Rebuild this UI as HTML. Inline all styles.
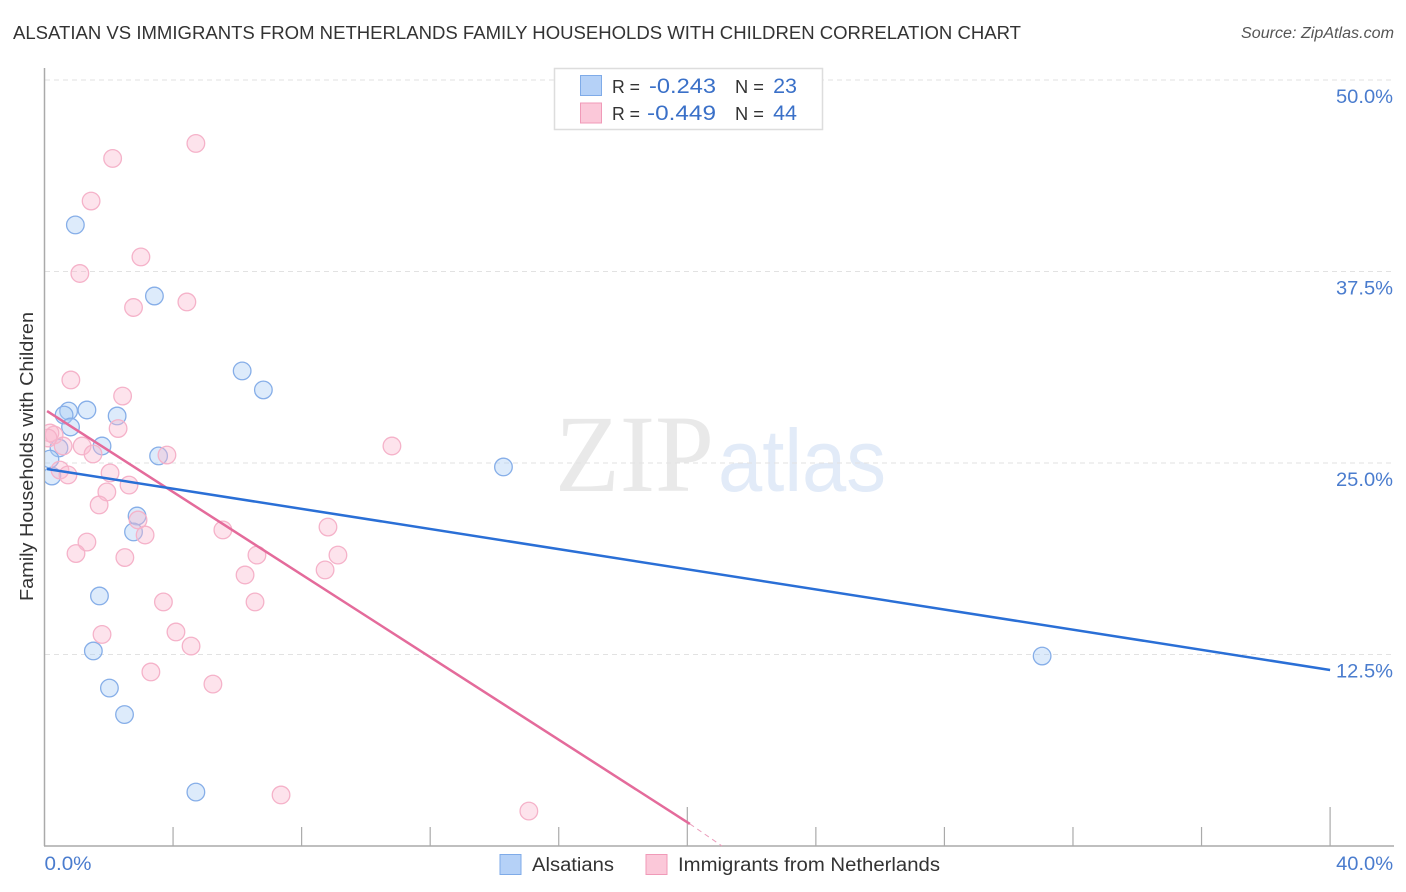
<!DOCTYPE html>
<html>
<head>
<meta charset="utf-8">
<title>Alsatian vs Immigrants from Netherlands Family Households with Children Correlation Chart</title>
<style>
html,body{margin:0;padding:0;background:#fff;}
svg{display:block;font-family:"Liberation Sans",sans-serif;}
</style>
</head>
<body>
<svg id="chart" width="1406" height="892" viewBox="0 0 1406 892" xmlns="http://www.w3.org/2000/svg">
<defs><clipPath id="plot-clip"><rect x="45" y="60" width="1349" height="786"/></clipPath></defs>
<rect width="1406" height="892" fill="#fff"/>
<text x="13" y="39" font-size="18.5" fill="#333" textLength="1008" lengthAdjust="spacingAndGlyphs">ALSATIAN VS IMMIGRANTS FROM NETHERLANDS FAMILY HOUSEHOLDS WITH CHILDREN CORRELATION CHART</text>
<text x="1241" y="38" font-size="15.5" font-style="italic" fill="#555" textLength="153" lengthAdjust="spacingAndGlyphs">Source: ZipAtlas.com</text>
<g>
<text x="555" y="491" font-family="'Liberation Serif',serif" font-size="110" fill="#e9e9e9" textLength="159" lengthAdjust="spacingAndGlyphs">ZIP</text>
<text x="718" y="491" font-size="88" fill="#e2ebf8" textLength="168" lengthAdjust="spacingAndGlyphs">atlas</text>
</g>
<g id="grid"></g>
<g id="axes"></g>
<g id="series-a" clip-path="url(#plot-clip)"></g>
<g id="series-b" clip-path="url(#plot-clip)"></g>
<g id="trends"></g>
<text transform="translate(33,456.5) rotate(-90)" font-size="18" fill="#333" text-anchor="middle" textLength="289" lengthAdjust="spacingAndGlyphs">Family Households with Children</text>
<g>
<rect x="554.5" y="68.5" width="268" height="61" fill="#fff" stroke="#ddd" stroke-width="1.5"/>
<rect x="580.5" y="75.5" width="21" height="20" fill="#b5d1f7" stroke="#7fabe8"/>
<rect x="580.5" y="103" width="21" height="20" fill="#fbc8d9" stroke="#f09ab8"/>
<text x="612" y="93" font-size="18.5" fill="#333" textLength="28" lengthAdjust="spacingAndGlyphs">R =</text>
<text x="649" y="93" font-size="21.5" fill="#3a70c8" textLength="67" lengthAdjust="spacingAndGlyphs">-0.243</text>
<text x="735" y="93" font-size="18.5" fill="#333" textLength="29" lengthAdjust="spacingAndGlyphs">N =</text>
<text x="797" y="93" font-size="21.5" fill="#3a70c8" text-anchor="end">23</text>
<text x="612" y="120" font-size="18.5" fill="#333" textLength="28" lengthAdjust="spacingAndGlyphs">R =</text>
<text x="647" y="120" font-size="21.5" fill="#3a70c8" textLength="69" lengthAdjust="spacingAndGlyphs">-0.449</text>
<text x="735" y="120" font-size="18.5" fill="#333" textLength="29" lengthAdjust="spacingAndGlyphs">N =</text>
<text x="797" y="120" font-size="21.5" fill="#3a70c8" text-anchor="end">44</text>
</g>
<g>
<rect x="500" y="854.5" width="21" height="20" fill="#b5d1f7" stroke="#7fabe8"/>
<text x="532" y="871" font-size="19" fill="#333" textLength="82" lengthAdjust="spacingAndGlyphs">Alsatians</text>
<rect x="646" y="854.5" width="21" height="20" fill="#fbc8d9" stroke="#f09ab8"/>
<text x="678" y="871" font-size="19" fill="#333" textLength="262" lengthAdjust="spacingAndGlyphs">Immigrants from Netherlands</text>
</g>
</svg>
<script>
const yTickValues = [12.5, 25, 37.5, 50];
const yTickLabels = ["12.5%", "25.0%", "37.5%", "50.0%"];
const xTickValues = [0, 4, 8, 12, 16, 20, 24, 28, 32, 36, 40];
const xEndValues = [0, 40];
const xEndLabels = ["0.0%", "40.0%"];
const alsatiansX = [0.96,3.42,6.15,6.81,1.32,0.75,0.61,2.26,0.81,0.45,1.79,3.55,0.17,0.23,14.28,2.88,2.77,1.71,1.52,2.02,2.49,4.71,31.04];
const alsatiansY = [40.54,35.90,31.01,29.77,28.46,28.39,28.13,28.07,27.35,25.98,26.11,25.46,25.26,24.15,24.74,21.54,20.50,16.32,12.73,10.31,8.58,3.52,12.40];
const netherlandsX = [2.12,4.71,1.45,3.00,1.10,4.43,2.77,0.82,2.43,2.29,0.30,0.17,0.11,0.58,1.17,1.51,3.81,0.48,0.73,2.04,2.63,1.94,1.70,2.91,3.13,5.55,6.61,1.32,0.98,2.50,6.24,10.81,8.82,9.13,8.73,6.55,3.70,1.79,4.09,4.56,3.31,5.24,7.36,15.07];
const netherlandsY = [44.88,45.86,42.10,38.45,37.37,35.51,35.15,30.42,29.37,27.25,26.83,26.96,26.63,26.11,26.11,25.59,25.52,24.54,24.22,24.35,23.56,23.11,22.26,21.28,20.30,20.63,18.99,19.84,19.09,18.83,17.69,26.11,20.82,18.99,18.02,15.93,15.93,13.81,13.97,13.05,11.36,10.57,3.33,2.28];
const alsatiansTrendX = [0.08, 40];
const alsatiansTrendY = [24.61, 11.49];
const netherlandsTrendX = [0.08, 20.08];
const netherlandsTrendY = [28.39, 1.44];
const netherlandsDashX = [20.08, 21.08];
const netherlandsDashY = [1.44, 0];

const NS = "http://www.w3.org/2000/svg";
function xScale(v) { return 44.5 + v * 32.14; }
function yScale(v) { return 846 - v * 15.32; }
function make(parent, tag, attrs, text) {
  const el = document.createElementNS(NS, tag);
  for (const k in attrs) el.setAttribute(k, attrs[k]);
  if (text !== undefined) el.textContent = text;
  parent.appendChild(el);
  return el;
}

const grid = document.getElementById("grid");
const axes = document.getElementById("axes");

yTickValues.forEach(function (v, i) {
  const line = make(grid, "line", {x1: 45, x2: 1394, y1: yScale(v), y2: yScale(v), stroke: "#e2e2e2", "stroke-width": 1, "stroke-dasharray": "5 4"});
  
  
  const label = make(axes, "text", {x: 1393, y: yScale(v) + 23, "font-size": 19.5, fill: "#4a7cce", "text-anchor": "end", textLength: 57, lengthAdjust: "spacingAndGlyphs"}, yTickLabels[i]);
  
  
});

const yAxis = make(axes, "line", {x1: 44.5, x2: 44.5, y1: 68, y2: 846, stroke: "#aaa", "stroke-width": 1.5});


const xAxis = make(axes, "line", {x1: 44, x2: 1394, y1: 846, y2: 846, stroke: "#aaa", "stroke-width": 1.5});



xTickValues.forEach(function (v, i) {
  if (i === 0) return;
  const top = i % 5 === 0 ? 807 : 827;
  const tick = make(axes, "line", {x1: xScale(v), x2: xScale(v), y1: top, y2: 846, stroke: "#aaa", "stroke-width": 1.2});
  
  
});

xEndValues.forEach(function (v, i) {
  const anchor = i === 0 ? "start" : "end";
  const px = i === 0 ? xScale(v) : xScale(v) + 63;
  const size = i === 0 ? 47 : 57;
  const label = make(axes, "text", {x: px, y: 870, "font-size": 19.5, fill: "#4a7cce", "text-anchor": anchor, textLength: size, lengthAdjust: "spacingAndGlyphs"}, xEndLabels[i]);
  
  
});

const seriesA = document.getElementById("series-a");
alsatiansX.forEach(function (v, i) {
  const c = make(seriesA, "circle", {cx: xScale(v), cy: yScale(alsatiansY[i]), r: 8.8, fill: "#a9ccf6", "fill-opacity": 0.4, stroke: "#86aee8", "stroke-width": 1.3});
  
  
});

const seriesB = document.getElementById("series-b");
netherlandsX.forEach(function (v, i) {
  const c = make(seriesB, "circle", {cx: xScale(v), cy: yScale(netherlandsY[i]), r: 8.8, fill: "#f9b9cf", "fill-opacity": 0.4, stroke: "#f5b2c9", "stroke-width": 1.3});
  
  
});

const trends = document.getElementById("trends");
const trendB = make(trends, "line", {x1: xScale(netherlandsTrendX[0]), y1: yScale(netherlandsTrendY[0]), x2: xScale(netherlandsTrendX[1]), y2: yScale(netherlandsTrendY[1]), stroke: "#e46b9b", "stroke-width": 2.5});


const dashB = make(trends, "line", {x1: xScale(netherlandsDashX[0]), y1: yScale(netherlandsDashY[0]), x2: xScale(netherlandsDashX[1]), y2: yScale(netherlandsDashY[1]), stroke: "#eb9dbb", "stroke-width": 1, "stroke-dasharray": "5 4"});


const trendA = make(trends, "line", {x1: xScale(alsatiansTrendX[0]), y1: yScale(alsatiansTrendY[0]), x2: xScale(alsatiansTrendX[1]), y2: yScale(alsatiansTrendY[1]), stroke: "#2a6fd6", "stroke-width": 2.5});


</script>
</body>
</html>
